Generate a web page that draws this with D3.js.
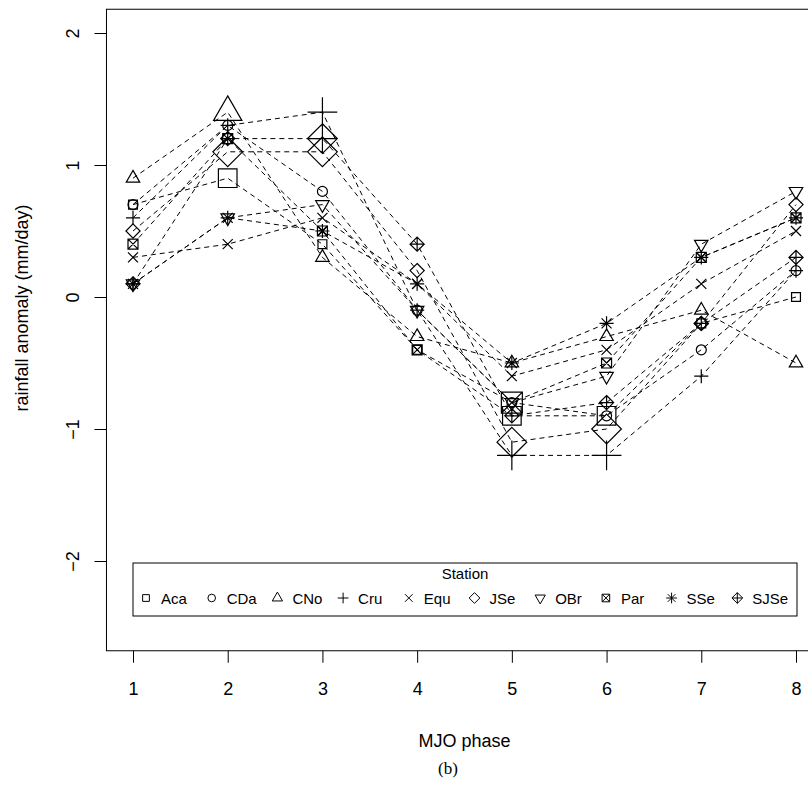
<!DOCTYPE html>
<html>
<head>
<meta charset="utf-8">
<script src="https://cdn.jsdelivr.net/npm/d3@7"></script>
<style>
  html, body { margin: 0; padding: 0; background: #fff; }
  svg { display: block; font-family: "Liberation Sans", Arial, sans-serif; }
</style>
</head>
<body>
<svg id="chart" width="808" height="787"></svg>
<script>
// MJO phases on the x axis
const phases = [1, 2, 3, 4, 5, 6, 7, 8]
const stations = ['Aca', 'CDa', 'CNo', 'Cru', 'Equ', 'JSe', 'OBr', 'Par', 'SSe', 'SJSe']

// rainfall anomaly (mm/day), one row per station, one value per phase
const Aca  = [0.7, 0.9, 0.4, -0.4, -0.9, -0.9, -0.2, 0.0]
const CDa  = [0.7, 1.3, 0.8, -0.1, -0.8, -0.9, -0.4, 0.2]
const CNo  = [0.9, 1.4, 0.3, -0.3, -0.5, -0.3, -0.1, -0.5]
const Cru  = [0.6, 1.3, 1.4, -0.1, -1.2, -1.2, -0.6, 0.2]
const Equ  = [0.3, 0.4, 0.6, 0.1, -0.6, -0.4, 0.1, 0.5]
const JSe  = [0.5, 1.1, 1.1, 0.2, -1.1, -1.0, -0.2, 0.7]
const OBr  = [0.1, 0.6, 0.7, -0.1, -0.8, -0.6, 0.4, 0.8]
const Par  = [0.4, 1.2, 0.5, -0.4, -0.8, -0.5, 0.3, 0.6]
const SSe  = [0.1, 0.6, 0.5, 0.1, -0.5, -0.2, 0.3, 0.6]
const SJSe = [0.1, 1.2, 1.2, 0.4, -0.9, -0.8, -0.2, 0.3]
const values = [Aca, CDa, CNo, Cru, Equ, JSe, OBr, Par, SSe, SJSe]

// 1 = significant (drawn with a larger symbol)
const sigAca  = [0, 1, 0, 0, 1, 1, 0, 0]
const sigCDa  = [0, 0, 0, 0, 0, 0, 0, 0]
const sigCNo  = [0, 1, 0, 0, 0, 0, 0, 0]
const sigCru  = [0, 0, 1, 0, 1, 1, 0, 0]
const sigEqu  = [0, 0, 0, 0, 0, 0, 0, 0]
const sigJSe  = [0, 1, 1, 0, 1, 1, 0, 0]
const sigOBr  = [0, 0, 0, 0, 0, 0, 0, 0]
const sigPar  = [0, 0, 0, 0, 1, 0, 0, 0]
const sigSSe  = [0, 0, 0, 0, 0, 0, 0, 0]
const sigSJSe = [0, 0, 1, 0, 0, 0, 0, 0]
const significant = [sigAca, sigCDa, sigCNo, sigCru, sigEqu, sigJSe, sigOBr, sigPar, sigSSe, sigSJSe]

const yTicks = [-2, -1, 0, 1, 2]

// R-style symbol for each station (pch 0..9)
const SYMBOLS = ['square', 'circle', 'triUp', 'plus', 'cross', 'diamond', 'triDown', 'boxX', 'asterisk', 'diamondPlus']

function symbolPath(type, r) {
  const s2 = Math.SQRT2 * r
  const sq = 0.886 * r
  const t0 = 1.555 * r, t1 = 1.347 * r, t2 = 0.778 * r
  switch (type) {
    case 'square':  return `M${-sq},${-sq}H${sq}V${sq}H${-sq}Z`
    case 'circle':  return `M${r},0A${r},${r} 0 1,1 ${-r},0A${r},${r} 0 1,1 ${r},0Z`
    case 'triUp':   return `M0,${-t0}L${t1},${t2}L${-t1},${t2}Z`
    case 'triDown': return `M0,${t0}L${t1},${-t2}L${-t1},${-t2}Z`
    case 'plus':    return `M${-s2},0H${s2}M0,${-s2}V${s2}`
    case 'cross':   return `M${-r},${-r}L${r},${r}M${-r},${r}L${r},${-r}`
    case 'diamond': return `M0,${-s2}L${s2},0L0,${s2}L${-s2},0Z`
    case 'boxX':    return `M${-r},${-r}H${r}V${r}H${-r}ZM${-r},${-r}L${r},${r}M${-r},${r}L${r},${-r}`
    case 'asterisk':return `M${-r},${-r}L${r},${r}M${-r},${r}L${r},${-r}M${-s2},0H${s2}M0,${-s2}V${s2}`
    case 'diamondPlus': return `M0,${-s2}L${s2},0L0,${s2}L${-s2},0ZM${-s2},0H${s2}M0,${-s2}V${s2}`
  }
}

const svg = d3.select('#chart')
const FONT = 'Liberation Sans, Arial, sans-serif'

// scales (R usr extends the range by 4%)
const x = d3.scaleLinear().domain([1, 8]).range([133, 796])
const y = d3.scaleLinear().domain([-2, 2]).range([561, 33])
const xLo = x(1 - 0.28), xHi = x(8 + 0.28)
const yTop = y(2 + 0.18), yBot = y(-2.5 - 0.18)

// plot frame
svg.append('rect')
  .attr('x', xLo).attr('y', yTop)
  .attr('width', xHi - xLo).attr('height', yBot - yTop)
  .attr('fill', 'none').attr('stroke', '#000').attr('stroke-width', 1)

// x axis
const xAxis = svg.append('g').attr('transform', `translate(0,${yBot})`)
  .call(d3.axisBottom(x).tickValues(phases).tickFormat(d3.format('d')).tickSize(12).tickPadding(19))
xAxis.select('.domain').remove()
xAxis.selectAll('text').attr('font-size', 18).attr('fill', '#000').attr('font-family', FONT)

// y axis, labels rotated like R's default las = 0
const yAxis = svg.append('g').attr('transform', `translate(${xLo},0)`)
  .call(d3.axisLeft(y).tickValues(yTicks).tickFormat(d => d < 0 ? '\u2212' + Math.abs(d) : d).tickSize(12))
yAxis.select('.domain').remove()
yAxis.selectAll('text')
  .attr('font-size', 18).attr('fill', '#000').attr('font-family', FONT)
  .attr('text-anchor', 'middle').attr('x', 0).attr('dy', 0)
  .attr('transform', 'translate(-33,0) rotate(-90)')
  .attr('dominant-baseline', 'central')

// axis titles
svg.append('text')
  .attr('x', x(4.5)).attr('y', 747)
  .attr('text-anchor', 'middle').attr('font-size', 18)
  .text('MJO phase')

svg.append('text')
  .attr('transform', `translate(28,${(yTop + yBot) / 2 - 22}) rotate(-90)`)
  .attr('text-anchor', 'middle').attr('font-size', 18)
  .text('rainfall anomaly (mm/day)')

svg.append('text')
  .attr('x', 448).attr('y', 774)
  .attr('text-anchor', 'middle').attr('font-size', 17)
  .attr('font-family', 'Liberation Serif, Times New Roman, serif')
  .text('(b)')

// station series
const series = stations.map((name, i) => ({
  name,
  symbol: SYMBOLS[i],
  points: phases.map((p, j) => ({ phase: p, value: values[i][j], sig: significant[i][j] }))
}))

const line = d3.line().x(d => x(d.phase)).y(d => y(d.value))

svg.append('g').attr('class', 'lines')
  .selectAll('path')
  .data(series).join('path')
  .attr('d', d => line(d.points))
  .attr('fill', 'none')
  .attr('stroke', '#000')
  .attr('stroke-width', 1)
  .attr('stroke-dasharray', '5,4')

const pts = svg.append('g').attr('class', 'points')
  .selectAll('g')
  .data(series).join('g')

pts.selectAll('path')
  .data(d => d.points.map(p => ({ ...p, symbol: d.symbol })))
  .join('path')
  .attr('transform', d => `translate(${x(d.phase)},${y(d.value)})`)
  .attr('d', d => symbolPath(d.symbol, d.sig ? 10.5 : 5))
  .attr('fill', 'none')
  .attr('stroke', '#000')
  .attr('stroke-width', 1.2)

// legend
const legX0 = 133, legX1 = 797, legY0 = 563, legY1 = 616
const leg = svg.append('g').attr('class', 'legend')
leg.append('rect')
  .attr('x', legX0).attr('y', legY0)
  .attr('width', legX1 - legX0).attr('height', legY1 - legY0)
  .attr('fill', '#fff').attr('stroke', '#000').attr('stroke-width', 1)
leg.append('text')
  .attr('x', 465).attr('y', 579)
  .attr('text-anchor', 'middle').attr('font-size', 15)
  .text('Station')

const legStep = 65.7
const items = leg.selectAll('g.item')
  .data(series).join('g')
  .attr('class', 'item')
  .attr('transform', (d, i) => `translate(${146 + i * legStep},598)`)
items.append('path')
  .attr('d', d => symbolPath(d.symbol, 3.8))
  .attr('fill', 'none').attr('stroke', '#000').attr('stroke-width', 1)
items.append('text')
  .attr('x', 15).attr('y', 5.5)
  .attr('font-size', 15)
  .text(d => d.name)
</script>
</body>
</html>
